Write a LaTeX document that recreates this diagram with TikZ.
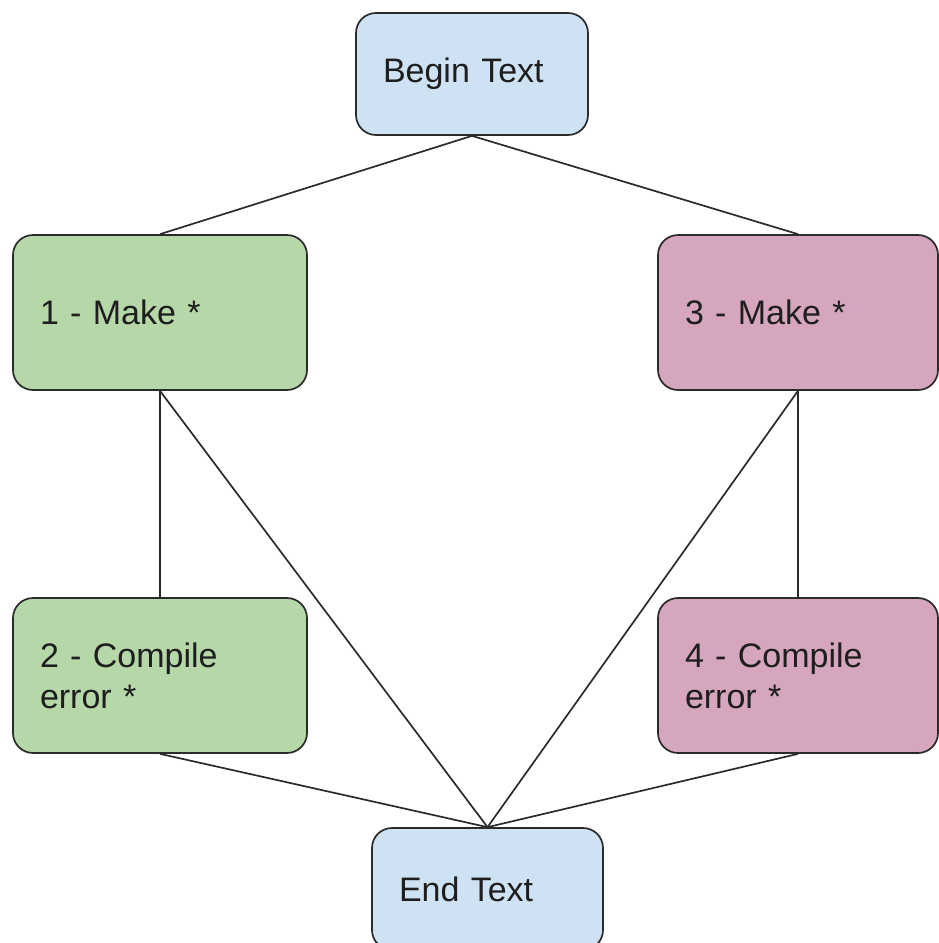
\documentclass[tikz,border=0pt]{standalone}
\usepackage{fontspec}
\setmainfont{Liberation Sans}
\definecolor{bluefill}{HTML}{CFE2F3}
\definecolor{greenfill}{HTML}{B6D7A8}
\definecolor{pinkfill}{HTML}{D5A6BD}
\definecolor{edge}{HTML}{2B2B2B}
\definecolor{ink}{HTML}{1E1E1E}
\begin{document}
\begin{tikzpicture}[x=1pt,y=-1pt,
  box/.style={draw=edge, line width=1.7pt, rounded corners=20pt, align=left,
    inner xsep=27pt, inner ysep=0pt, text=ink,
    font=\fontsize{34}{41}\selectfont},
  conn/.style={draw=edge, line width=1.7pt}]
\useasboundingbox (0,0) rectangle (939,943);
\clip (0,0) rectangle (939,943);
\node[box, fill=bluefill, text width=178pt, minimum height=122pt] (begin) at (472,74) {Begin Text};
\node[box, fill=greenfill, text width=240pt, minimum height=155pt] (m1) at (160,312.5) {1 - Make *};
\node[box, fill=pinkfill, text width=226pt, minimum height=155pt] (m3) at (798,312.5) {3 - Make *};
\node[box, fill=greenfill, text width=240pt, minimum height=155pt] (c2) at (160,675.5) {2 - Compile\\error *};
\node[box, fill=pinkfill, text width=226pt, minimum height=155pt] (c4) at (798,675.5) {4 - Compile\\error *};
\node[box, fill=bluefill, text width=177pt, minimum height=122pt] (end) at (487.5,889) {End Text};
\draw[conn] (begin.south) -- (m1.north);
\draw[conn] (begin.south) -- (m3.north);
\draw[conn] (m1.south) -- (c2.north);
\draw[conn] (m1.south) -- (end.north);
\draw[conn] (m3.south) -- (c4.north);
\draw[conn] (m3.south) -- (end.north);
\draw[conn] (c2.south) -- (end.north);
\draw[conn] (c4.south) -- (end.north);
\end{tikzpicture}
\end{document}
